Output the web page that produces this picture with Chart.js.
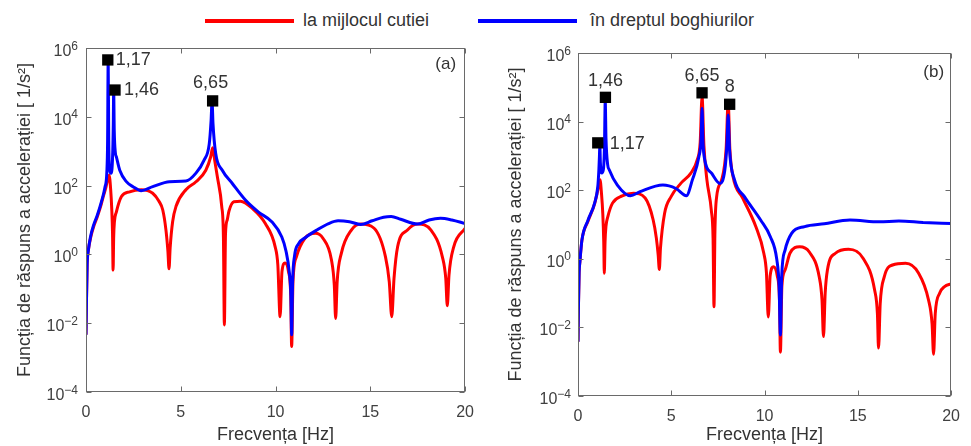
<!DOCTYPE html>
<html><head><meta charset="utf-8">
<script src="https://cdn.jsdelivr.net/npm/chart.js"></script>
<style>
html,body{margin:0;padding:0;background:#fff;width:971px;height:446px;overflow:hidden;font-family:"Liberation Sans",Arial,sans-serif;}
#wrap{position:relative;width:971px;height:446px;}
canvas{position:absolute;top:0;}
#ca{left:0;} #cb{left:485px;}
.lg-line{position:absolute;height:4px;top:19px;}
.lg-text{position:absolute;top:9px;font-size:18px;line-height:22px;color:#333;white-space:nowrap;}
</style></head>
<body><div id="wrap">
<div class="lg-line" id="l0" style="left:205px;width:89px;"></div>
<div class="lg-text" id="t0" style="left:303px"></div>
<div class="lg-line" id="l1" style="left:478px;width:99px;"></div>
<div class="lg-text" id="t1" style="left:590px"></div>
<canvas id="ca" width="485" height="446"></canvas>
<canvas id="cb" width="486" height="446"></canvas>
</div>
<script>
// ---- text / ticks ----
const seriesNames = ['la mijlocul cutiei', 'în dreptul boghiurilor'];
const seriesColors = ['#ff0000', '#0000ff'];
const panelTags = ['(a)', '(b)'];
const xTitle = 'Frecvența [Hz]';
const yTitle = 'Funcția de răspuns a accelerației [ 1/s²]';
const xTickValues = [0, 5, 10, 15, 20];
const yTickValues = [1e-4, 1e-2, 1, 1e2, 1e4, 1e6];
const yTickBase = '10';
const yTickExponents = ['-4', '-2', '0', '2', '4', '6'];

// ---- panel (a) ----
const aBlueFreq = [0,0.02,0.06,0.12,0.25,0.4,0.6,0.8,1.0,1.1,1.14,1.17,1.2,1.25,1.32,1.4,1.44,1.46,1.49,1.55,1.6,1.78,2.13,2.48,2.91,3.52,4.4,5.27,5.8,6.23,6.5,6.6,6.65,6.7,6.84,7.19,7.71,8.41,9.1,9.8,10.33,10.55,10.72,10.81,10.85,10.9,11.0,11.2,11.6,12.2,12.8,13.3,13.9,14.5,15.1,15.7,16.1,16.6,17.5,18.1,18.7,19.3,20];
const aBlueVal = [0.0046,0.032,0.5,1.26,3.5,7.1,14,32,89,250,2000,450000,2000,280,230,630,6300,60000,4000,890,690,280,130,93,71,93,130,135,230,550,1600,7900,29000,6300,870,280,117,38,17,8.9,3.2,1.26,0.32,0.063,0.0046,0.16,0.89,2.0,3.16,5.2,7.9,9.5,8.9,7.4,9.5,12,12.6,10.5,7.6,10,11.2,10,7.9];
const aRedFreq = [0,0.02,0.06,0.12,0.25,0.4,0.6,0.8,0.91,1.05,1.15,1.22,1.3,1.36,1.4,1.43,1.46,1.5,1.6,1.87,2.3,2.91,3.52,3.85,4.05,4.22,4.32,4.38,4.44,4.57,4.75,5.27,5.8,6.32,6.58,6.68,6.8,6.93,7.16,7.25,7.3,7.36,7.45,7.54,7.8,8.15,8.76,9.46,9.98,10.12,10.24,10.34,10.5,10.68,10.8,10.85,10.92,11.1,11.55,12.1,12.5,12.95,13.1,13.17,13.25,13.47,14.0,14.5,15.2,15.8,16.0,16.13,16.25,16.44,16.96,17.5,18.2,18.8,18.98,19.06,19.15,19.4,20];
const aRedVal = [0.0046,0.032,0.5,1.26,3.16,6.3,12.6,28,48,89,158,200,79,20,4,0.35,3.16,8.9,17,48,66,76,60,35,19.5,5,1.26,0.38,1.58,8.9,25,76,129,280,690,1260,500,180,25,3.16,0.0089,4,10,18,34,35,22,7.9,1.66,0.5,0.0155,0.32,0.56,0.32,0.063,0.0021,0.16,0.85,2.95,4.1,2.95,0.69,0.126,0.0138,0.16,1.07,5.1,7.6,5.75,0.85,0.16,0.0155,0.2,1.66,5.1,7.6,5.1,0.85,0.2,0.032,0.25,1.66,5.75];
const aMarkFreq = [1.15, 1.53, 6.68];
const aMarkVal = [450000, 60000, 29000];
const aMarkLabel = ['1,17', '1,46', '6,65'];

// ---- panel (b) ----
const bBlueFreq = [0,0.02,0.06,0.1,0.21,0.54,0.89,1.06,1.12,1.15,1.17,1.2,1.27,1.36,1.42,1.46,1.5,1.59,1.68,2.11,2.81,3.33,4.55,5.25,5.81,6.13,6.48,6.6,6.65,6.7,6.79,7.17,7.61,7.87,7.98,8.05,8.12,8.39,8.92,9.79,10.31,10.66,10.78,10.85,10.92,11.1,11.45,12.15,13.2,14.58,16.15,17.2,18.5,20];
const bBlueVal = [0.0038,0.032,0.4,0.8,3.5,13.5,42,126,400,1000,2200,630,316,400,2000,40000,3200,560,390,141,69,91,141,112,69,200,950,3200,24500,2500,790,310,158,390,2000,15500,1600,200,65,13.5,4.4,0.93,0.16,0.006,0.32,1.8,5.5,8.7,10.5,13.5,12,12.6,11.5,10.7];
const bRedFreq = [0,0.02,0.06,0.1,0.21,0.54,0.89,1.06,1.18,1.26,1.33,1.38,1.41,1.45,1.5,1.6,1.85,2.37,2.98,3.6,4.03,4.2,4.3,4.36,4.42,4.64,4.99,5.51,6.04,6.39,6.55,6.65,6.75,6.91,7.15,7.24,7.29,7.34,7.43,7.7,7.94,8.05,8.14,8.31,8.83,9.53,9.96,10.1,10.2,10.3,10.49,10.68,10.8,10.85,10.93,11.1,11.36,11.88,12.4,12.93,13.08,13.16,13.25,13.37,13.8,14.5,15.29,15.9,16.05,16.11,16.2,16.42,16.86,17.56,18.26,18.79,18.98,19.06,19.15,19.39,19.65,20];
const bRedVal = [0.0038,0.032,0.4,0.8,3.5,12.6,40,100,200,79,20,3.16,0.38,3.16,8.9,17,42,68,81,59,13.5,4,1.26,0.49,2.0,21,65,158,310,760,2500,54000,2000,200,25,4,0.04,6.3,63,200,1600,38000,1600,250,59,8.7,1.45,0.4,0.02,0.32,0.59,0.32,0.063,0.0019,0.16,0.47,1.45,2.24,1.58,0.3,0.063,0.0054,0.1,0.47,1.45,1.9,1.02,0.123,0.025,0.0025,0.05,0.3,0.66,0.74,0.38,0.063,0.0126,0.00166,0.025,0.1,0.155,0.186];
const bMarkFreq = [1.06, 1.47, 6.65, 8.13];
const bMarkVal = [2400, 51000, 69000, 32000];
const bMarkLabel = ['1,17', '1,46', '6,65', '8'];

// ---- legend (HTML) ----
['l0','l1'].forEach((id,i)=>{ document.getElementById(id).style.background = seriesColors[i]; });
['t0','t1'].forEach((id,i)=>{ document.getElementById(id).textContent = seriesNames[i]; });

const FONT = '"Liberation Sans", Arial, sans-serif';
const pts = (fs, vs) => fs.map((f, i) => ({x: f, y: vs[i]}));

const framePlugin = {
  id: 'frameTicks',
  afterDraw(chart) {
    const o = chart.options.plugins.frameTicks;
    const {ctx, chartArea: a, scales: {x, y}} = chart;
    ctx.save();
    ctx.strokeStyle = '#6a6a6a';
    ctx.lineWidth = 1;
    const L = Math.round(a.left) + 0.5, R = Math.round(a.right) - 0.5;
    const T = Math.round(a.top) + 0.5, B = Math.round(a.bottom) - 0.5;
    ctx.strokeRect(L, T, R - L, B - T);
    const tl = 5;
    ctx.beginPath();
    x.ticks.forEach(t => {
      const px = Math.round(x.getPixelForValue(t.value)) + 0.5;
      ctx.moveTo(px, B); ctx.lineTo(px, B - tl);
      ctx.moveTo(px, T); ctx.lineTo(px, T + tl);
    });
    y.ticks.forEach(t => {
      const py = Math.round(y.getPixelForValue(t.value)) + 0.5;
      ctx.moveTo(L, py); ctx.lineTo(L + tl, py);
      ctx.moveTo(R, py); ctx.lineTo(R - tl, py);
    });
    ctx.stroke();
    // y tick labels: 10 with superscript exponent, positioned by the log scale
    ctx.fillStyle = '#404040';
    ctx.textBaseline = 'alphabetic';
    y.ticks.forEach(t => {
      const i = yTickValues.indexOf(t.value);
      if (i < 0) return;
      const py = y.getPixelForValue(t.value);
      const right = a.left - o.yPad;
      ctx.font = '12px ' + FONT;
      const ex = yTickExponents[i].replace('-', '\u2212');
      const ew = ctx.measureText(ex).width;
      ctx.textAlign = 'left';
      ctx.fillText(ex, right - ew, py + 8 - 6.5);
      ctx.font = '16px ' + FONT;
      ctx.textAlign = 'right';
      ctx.fillText(yTickBase, right - ew, py + 8);
    });
    // marker labels
    ctx.fillStyle = '#333';
    ctx.font = '18px ' + FONT;
    ctx.textBaseline = 'middle';
    o.markF.forEach((f, i) => {
      const p = o.place[i];
      ctx.textAlign = p.align;
      ctx.fillText(o.labels[i], x.getPixelForValue(f) + p.dx, y.getPixelForValue(o.markV[i]) + p.dy);
    });
    // panel tag
    ctx.font = '17px ' + FONT;
    ctx.textAlign = 'right';
    ctx.fillText(o.tag, a.right - o.tagDx, a.top + o.tagDy);
    ctx.restore();
  }
};

function makePanel(id, redF, redV, blueF, blueV, markF, markV, labels, place, g) {
  new Chart(document.getElementById(id), {
    type: 'line',
    data: {
      datasets: [
        {label: 'markers', data: pts(markF, markV), showLine: false, pointStyle: 'rect',
         pointRadius: 8, pointHoverRadius: 8, backgroundColor: '#000', borderColor: '#000', borderWidth: 0, order: 0},
        {label: seriesNames[1], data: pts(blueF, blueV), borderColor: seriesColors[1], borderWidth: 3,
         pointRadius: 0, cubicInterpolationMode: 'monotone', borderJoinStyle: 'bevel', fill: false, order: 1},
        {label: seriesNames[0], data: pts(redF, redV), borderColor: seriesColors[0], borderWidth: 3,
         pointRadius: 0, cubicInterpolationMode: 'monotone', borderJoinStyle: 'bevel', fill: false, order: 2}
      ]
    },
    options: {
      responsive: false, animation: false, devicePixelRatio: 1,
      layout: {padding: {left: g.padL, right: g.padR, top: g.padT, bottom: 0}},
      plugins: {
        legend: {display: false}, tooltip: {enabled: false},
        frameTicks: {markF, markV, labels, place, tag: g.tag, tagDx: g.tagDx, tagDy: g.tagDy, yPad: g.yPad}
      },
      scales: {
        x: {
          type: 'linear', min: 0, max: 20,
          afterBuildTicks: s => { s.ticks = xTickValues.map(v => ({value: v})); },
          afterFit: s => { s.height = g.xH; },
          grid: {display: false, drawTicks: false},
          border: {display: false},
          ticks: {autoSkip: false, maxRotation: 0, padding: g.xPad, color: '#404040', font: {family: FONT, size: 16}},
          title: {display: true, text: xTitle, color: '#333', padding: {top: 0, bottom: 0}, font: {family: FONT, size: 18}}
        },
        y: {
          type: 'logarithmic', min: 1e-4, max: 1e6,
          afterBuildTicks: s => { s.ticks = yTickValues.map(v => ({value: v})); },
          afterFit: s => { s.width = 86; },
          grid: {display: false, drawTicks: false},
          border: {display: false},
          ticks: {display: false, autoSkip: false},
          title: {display: true, text: yTitle, color: '#333', padding: {top: g.yTitlePad, bottom: 0}, font: {family: FONT, size: 18}}
        }
      }
    },
    plugins: [framePlugin]
  });
}

makePanel('ca', aRedFreq, aRedVal, aBlueFreq, aBlueVal, aMarkFreq, aMarkVal, aMarkLabel,
  [{dx: 8, dy: 0, align: 'left'}, {dx: 9, dy: 0, align: 'left'}, {dx: -2, dy: -18, align: 'center'}],
  {padL: 0, padR: 17, padT: 48, xH: 54, xPad: 11, yPad: 8, yTitlePad: 14, tag: panelTags[0], tagDx: 9, tagDy: 16});

makePanel('cb', bRedFreq, bRedVal, bBlueFreq, bBlueVal, bMarkFreq, bMarkVal, bMarkLabel,
  [{dx: 12, dy: 1, align: 'left'}, {dx: 0, dy: -16, align: 'center'}, {dx: 0, dy: -17, align: 'center'}, {dx: 0, dy: -17, align: 'center'}],
  {padL: 7, padR: 11, padT: 53, xH: 50, xPad: 11, yPad: 7, yTitlePad: 13, tag: panelTags[1], tagDx: 7, tagDy: 19});
</script>
</body></html>
